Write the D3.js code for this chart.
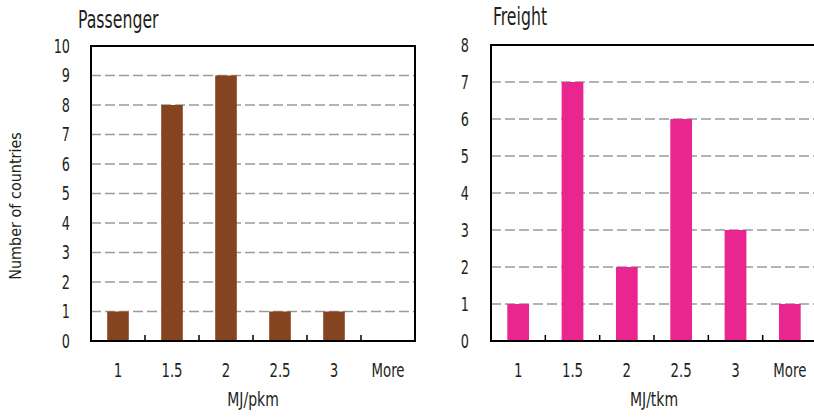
<!DOCTYPE html>
<html><head><meta charset="utf-8">
<script src="https://cdn.jsdelivr.net/npm/d3@7"></script>
<style>
html,body{margin:0;padding:0;background:#fff;}
svg text{font-family:"DejaVu Sans Condensed","DejaVu Sans",sans-serif;font-stretch:condensed;fill:#231f20;}
</style></head>
<body>
<script>
const categories = ["1","1.5","2","2.5","3","More"];
const passengerValues = [1,8,9,1,1,0];
const freightValues = [1,7,2,6,3,1];
const passengerTicks = [0,1,2,3,4,5,6,7,8,9,10];
const freightTicks = [0,1,2,3,4,5,6,7,8];

const W = 814, H = 417;
const svg = d3.select("body").append("svg").attr("width", W).attr("height", H);

// narrow text helper: places text at (x,y) squeezed horizontally
function label(parent, x, y, str, size, sx, anchor, dy){
  const t = parent.append("g").attr("transform", `translate(${x},${y}) scale(${sx},1)`)
    .append("text").attr("font-size", size).attr("text-anchor", anchor || "start").text(str);
  if (dy) t.attr("dy", dy);
  return t;
}

function panel(opts){
  const {x0, x1, y0, y1, values, ticks, yMax, color, title, titleX, titleY, xTitle, labelRight} = opts;
  const g = svg.append("g");
  const x = d3.scaleBand().domain(categories).range([x0, x1]).paddingInner(0.6).paddingOuter(0.3);
  const xb = d3.scaleBand().domain(categories).range([x0, x1]);
  const y = d3.scaleLinear().domain([0, yMax]).range([y1, y0]);

  g.selectAll("line.grid").data(ticks.filter(t => t > 0 && t < yMax)).enter().append("line")
    .attr("x1", x0).attr("x2", x1).attr("y1", d => y(d)).attr("y2", d => y(d))
    .attr("stroke", "#9a9a9a").attr("stroke-width", 1.6).attr("stroke-dasharray", "10,4");

  g.selectAll("rect.bar").data(values).enter().append("rect")
    .attr("x", (d,i) => x(categories[i])).attr("width", x.bandwidth())
    .attr("y", d => y(d)).attr("height", d => y1 - y(d))
    .attr("fill", color);

  g.selectAll("line.xt").data(categories.slice(1)).enter().append("line")
    .attr("x1", d => xb(d)).attr("x2", d => xb(d))
    .attr("y1", y1).attr("y2", y1 - 6)
    .attr("stroke", "#000").attr("stroke-width", 1.5);

  g.append("rect").attr("x", x0).attr("y", y0).attr("width", x1 - x0).attr("height", y1 - y0)
    .attr("fill", "none").attr("stroke", "#000").attr("stroke-width", 2);

  ticks.forEach(t => label(g, labelRight, y(t), String(t), 19, 0.75, "end", "0.36em"));
  categories.forEach(c => label(g, xb(c) + xb.bandwidth()/2, 377, c, 19, 0.78, "middle"));
  label(g, (x0 + x1)/2, 406, xTitle, 19, 0.82, "middle");
  label(g, titleX, titleY, title, 25, 0.7, "start");
}

panel({x0:91, x1:415, y0:46, y1:341, values:passengerValues, ticks:passengerTicks, yMax:10,
  color:"#84441f", title:"Passenger", titleX:78, titleY:28, xTitle:"MJ/pkm", labelRight:70});
panel({x0:491, x1:817, y0:45, y1:341, values:freightValues, ticks:freightTicks, yMax:8,
  color:"#e92590", title:"Freight", titleX:493, titleY:25, xTitle:"MJ/tkm", labelRight:469});

svg.append("text").attr("transform", "translate(21,206) rotate(-90)")
  .attr("text-anchor", "middle").attr("font-size", 16).text("Number of countries");
</script>
</body></html>
